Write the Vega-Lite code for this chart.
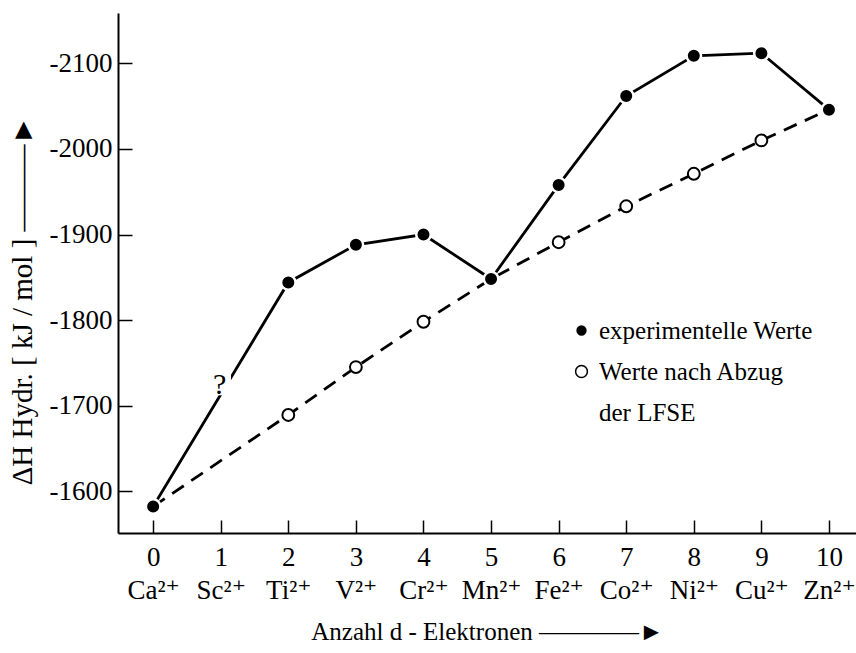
{
  "$schema": "https://vega.github.io/schema/vega-lite/v6.json",
  "width": 738,
  "height": 520,
  "autosize": {"type": "none"},
  "padding": {"left": 118, "top": 13, "right": 0, "bottom": 120},
  "background": "white",
  "config": {
    "view": {"stroke": null},
    "font": "Liberation Serif",
    "axis": {
      "domainColor": "black",
      "domainWidth": 2,
      "tickColor": "black",
      "tickWidth": 1.5,
      "grid": false,
      "labelColor": "black",
      "labelFont": "Liberation Serif, DejaVu Serif",
      "labelFontSize": 27,
      "titleFont": "Liberation Serif, DejaVu Serif",
      "titleFontSize": 25,
      "titleFontWeight": "normal",
      "titleColor": "black",
      "labelFlush": false,
      "labelOverlap": false
    },
    "legend": {
      "labelFont": "Liberation Serif, DejaVu Serif",
      "labelFontSize": 25,
      "labelColor": "black",
      "labelLimit": 0
    }
  },
  "datasets": {
    "exp": [
      {"n": 0, "v": -1582, "s": "experimentelle Werte"},
      {"n": 2, "v": -1844, "s": "experimentelle Werte"},
      {"n": 3, "v": -1888, "s": "experimentelle Werte"},
      {"n": 4, "v": -1900, "s": "experimentelle Werte"},
      {"n": 5, "v": -1848, "s": "experimentelle Werte"},
      {"n": 6, "v": -1958, "s": "experimentelle Werte"},
      {"n": 7, "v": -2062, "s": "experimentelle Werte"},
      {"n": 8, "v": -2109, "s": "experimentelle Werte"},
      {"n": 9, "v": -2112, "s": "experimentelle Werte"},
      {"n": 10, "v": -2046, "s": "experimentelle Werte"}
    ],
    "lfse": [
      {"n": 0, "v": -1582, "s": "Werte nach Abzug"},
      {"n": 2, "v": -1689, "s": "Werte nach Abzug"},
      {"n": 3, "v": -1745, "s": "Werte nach Abzug"},
      {"n": 4, "v": -1798, "s": "Werte nach Abzug"},
      {"n": 5, "v": -1848, "s": "Werte nach Abzug"},
      {"n": 6, "v": -1891, "s": "Werte nach Abzug"},
      {"n": 7, "v": -1933, "s": "Werte nach Abzug"},
      {"n": 8, "v": -1971, "s": "Werte nach Abzug"},
      {"n": 9, "v": -2010, "s": "Werte nach Abzug"},
      {"n": 10, "v": -2046, "s": "Werte nach Abzug"}
    ],
    "q": [{"n": 1, "v": -1724, "t": "?"}]
  },
  "encoding": {
    "x": {
      "field": "n",
      "type": "quantitative",
      "scale": {"domain": [-0.52, 10.4], "nice": false, "zero": false},
      "axis": {
        "values": [0, 1, 2, 3, 4, 5, 6, 7, 8, 9, 10],
        "tickSize": -13,
        "labelPadding": 24,
        "labelBaseline": "top",
        "labelLineHeight": 33,
        "labelExpr": "[datum.label, ['Ca²⁺','Sc²⁺','Ti²⁺','V²⁺','Cr²⁺','Mn²⁺','Fe²⁺','Co²⁺','Ni²⁺','Cu²⁺','Zn²⁺'][datum.value]]",
        "title": "Anzahl d - Elektronen  ————►",
        "titlePadding": 16
      }
    },
    "y": {
      "field": "v",
      "type": "quantitative",
      "scale": {"domain": [-2159, -1551], "reverse": true, "nice": false, "zero": false},
      "axis": {
        "values": [-2100, -2000, -1900, -1800, -1700, -1600],
        "tickSize": -14,
        "labelPadding": 20,
        "labelExpr": "datum.value + ''",
        "title": "ΔH Hydr. [ kJ / mol ] ———►",
        "titleFontSize": 29,
        "titlePadding": 12,
        "titleY": 287
      }
    }
  },
  "layer": [
    {
      "mark": {"type": "rule", "color": "black", "strokeWidth": 2},
      "encoding": {"x": null, "y": {"datum": -2159}}
    },
    {
      "data": {"name": "lfse"},
      "mark": {"type": "line", "color": "black", "strokeWidth": 2.8, "strokeDash": [14, 9]}
    },
    {
      "data": {"name": "exp"},
      "mark": {"type": "line", "color": "black", "strokeWidth": 2.8}
    },
    {
      "data": {"name": "q"},
      "mark": {"type": "point", "shape": "square", "filled": true, "color": "white", "size": 420, "opacity": 1}
    },
    {
      "data": {"name": "q"},
      "mark": {"type": "text", "fontSize": 30, "font": "Liberation Serif", "color": "black", "baseline": "middle", "align": "center", "dx": -1},
      "encoding": {"text": {"field": "t"}}
    },
    {
      "data": {"name": "lfse"},
      "transform": [{"filter": "datum.n != 0 && datum.n != 5 && datum.n != 10"}],
      "mark": {"type": "point", "filled": true, "shape": "circle", "size": 140, "strokeWidth": 2, "opacity": 1},
      "encoding": {
        "fill": {
          "field": "s",
          "type": "nominal",
          "scale": {"domain": ["experimentelle Werte", "Werte nach Abzug", "der LFSE"], "range": ["black", "white", "white"]},
          "legend": {
            "title": null,
            "orient": "none",
            "legendX": 451,
            "legendY": 305,
            "padding": 0,
            "symbolType": "circle",
            "symbolSize": 140,
            "symbolStrokeWidth": 1.5,
            "labelOffset": 5,
            "rowPadding": 15
          }
        },
        "stroke": {
          "field": "s",
          "type": "nominal",
          "scale": {"domain": ["experimentelle Werte", "Werte nach Abzug", "der LFSE"], "range": ["white", "black", "white"]},
          "legend": {
            "title": null,
            "orient": "none",
            "legendX": 451,
            "legendY": 305,
            "padding": 0,
            "symbolType": "circle",
            "symbolSize": 140,
            "symbolStrokeWidth": 1.5,
            "labelOffset": 5,
            "rowPadding": 15
          }
        }
      }
    },
    {
      "data": {"name": "exp"},
      "mark": {"type": "point", "filled": true, "shape": "circle", "size": 210, "strokeWidth": 2.5, "opacity": 1},
      "encoding": {
        "fill": {"field": "s", "type": "nominal"},
        "stroke": {"field": "s", "type": "nominal"}
      }
    }
  ]
}
